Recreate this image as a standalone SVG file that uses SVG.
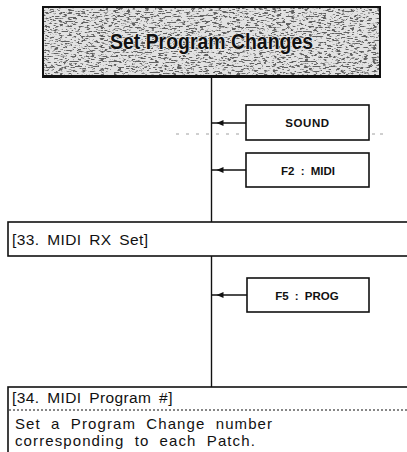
<svg xmlns="http://www.w3.org/2000/svg" width="407" height="452" viewBox="0 0 407 452">
<style>
  .lbl { font-family: "Liberation Sans", Arial, sans-serif; font-weight: bold; font-size: 11.5px; fill: #111; text-anchor: middle; }
  .hdr { font-family: "Liberation Sans", Arial, sans-serif; font-size: 15.5px; fill: #111; letter-spacing: 0.4px; word-spacing: 3px; }
  .body { font-family: "Liberation Sans", Arial, sans-serif; font-size: 15px; fill: #111; letter-spacing: 1.1px; word-spacing: 5px; }
  .box { fill: #fff; stroke: #111; stroke-width: 1.6; }
  .conn { stroke: #111; stroke-width: 1.4; fill: none; }
</style>
<defs>
  <marker id="ah" markerUnits="userSpaceOnUse" markerWidth="14" markerHeight="8" refX="12" refY="3" orient="auto" overflow="visible">
    <path d="M0,0 L7,3 L0,6 z" fill="#111"/>
  </marker>
  <filter id="grain" x="0" y="0" width="100%" height="100%" filterUnits="objectBoundingBox">
    <feTurbulence type="fractalNoise" baseFrequency="0.22 0.8" numOctaves="3" seed="11" result="n"/>
    <feColorMatrix in="n" type="matrix" values="0 0 0 0 0.12  0 0 0 0 0.12  0 0 0 0 0.12  0 0 0 8 -4.2"/>
  </filter>
</defs>
<rect width="407" height="452" fill="#fff"/>

<g id="connectors">
  <line class="conn" x1="211.5" y1="77" x2="211.5" y2="222"/>
  <line class="conn" x1="211.5" y1="256" x2="211.5" y2="387"/>
  <line class="conn" x1="246" y1="123" x2="211.5" y2="123" marker-end="url(#ah)"/>
  <line class="conn" x1="246" y1="170" x2="211.5" y2="170" marker-end="url(#ah)"/>
  <line class="conn" x1="247" y1="295" x2="211.5" y2="295" marker-end="url(#ah)"/>
  <line x1="176" y1="134" x2="244" y2="134" stroke="#888" stroke-width="0.8" stroke-dasharray="3 7"/>
  <line x1="372" y1="134" x2="388" y2="134" stroke="#888" stroke-width="0.8" stroke-dasharray="3 5"/>
</g>

<g id="title">
  <rect x="43" y="7" width="337" height="69" fill="#e2e2e2"/>
  <rect x="43" y="7" width="337" height="69" fill="#000" filter="url(#grain)"/>
  <rect x="43" y="7" width="337" height="69" fill="none" stroke="#111" stroke-width="2"/>
  <line x1="42" y1="77" x2="381" y2="77" stroke="#111" stroke-width="2"/>
  <text x="211.5" y="49" text-anchor="middle" textLength="203" lengthAdjust="spacingAndGlyphs" font-family="'Liberation Sans', Arial, sans-serif" font-weight="bold" font-size="22" fill="#111" stroke="#eeeeee" stroke-width="1.5" paint-order="stroke">Set Program Changes</text>
</g>

<g id="sound">
  <rect class="box" x="246" y="105" width="123" height="35"/>
  <text class="lbl" x="307.5" y="127" letter-spacing="0.6">SOUND</text>
</g>

<g id="f2midi">
  <rect class="box" x="246" y="153" width="123" height="34"/>
  <text class="lbl" x="308" y="175" word-spacing="3">F2 : MIDI</text>
</g>

<g id="midirx">
  <rect class="box" x="8" y="222" width="410" height="34"/>
  <text class="hdr" x="12" y="245">[33. MIDI RX Set]</text>
</g>

<g id="f5prog">
  <rect class="box" x="247" y="278" width="122" height="34"/>
  <text class="lbl" x="307" y="300" word-spacing="3">F5 : PROG</text>
</g>

<g id="midiprog">
  <rect class="box" x="8" y="387" width="410" height="80"/>
  <text class="hdr" x="12" y="403">[34. MIDI Program #]</text>
  <line x1="9" y1="410" x2="407" y2="410" stroke="#111" stroke-width="1.2" stroke-dasharray="2 2"/>
  <text class="body" x="15" y="429">Set a Program Change number</text>
  <text class="body" x="15" y="446">corresponding to each Patch.</text>
</g>
</svg>
